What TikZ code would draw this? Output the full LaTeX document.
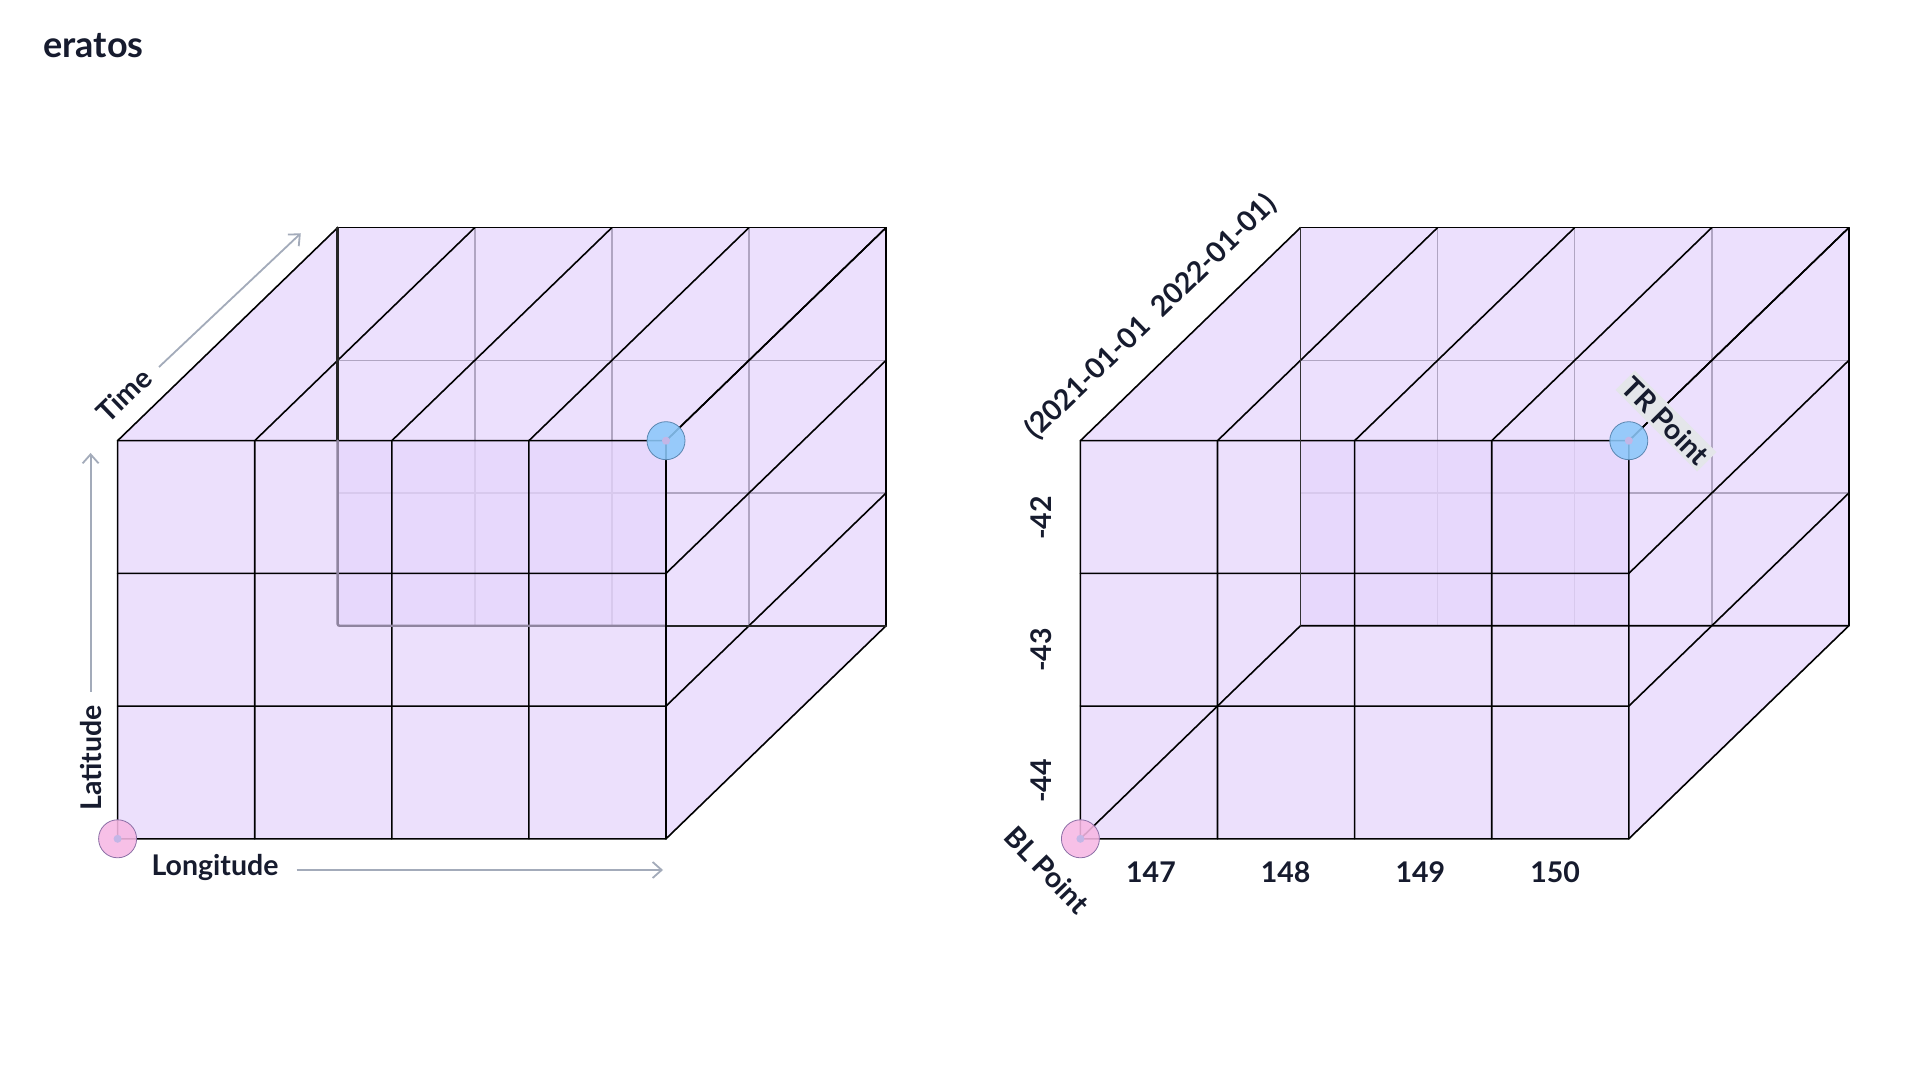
\documentclass[tikz,border=0pt]{standalone}
\usepackage{fontspec}
\setmainfont{Lato}
\usepackage{xcolor}
\usetikzlibrary{arrows.meta, positioning, calc}

\definecolor{cubelilac}{HTML}{ECE0FD}
\definecolor{frontlilac}{HTML}{E6D6FC}
\definecolor{backgrid}{HTML}{B0A5C2}
\definecolor{hiddengray}{HTML}{8F849F}
\definecolor{inkdark}{HTML}{161B2E}
\definecolor{axisgray}{HTML}{A3ABBA}
\definecolor{blpink}{HTML}{F7B8E4}
\definecolor{pinkedge}{HTML}{8C6FA6}
\definecolor{trblue}{HTML}{8CC8FA}
\definecolor{blueedge}{HTML}{5A86B0}
\definecolor{dotlilac}{HTML}{C3B6E6}
\definecolor{tagback}{HTML}{E4E6EA}

% cube sizes (pt = px)
\newcommand{\cellW}{137.1}
\newcommand{\cellH}{132.7}
\newcommand{\cubeW}{548.4}
\newcommand{\cubeH}{398.1}
\newcommand{\depX}{220}
\newcommand{\depY}{213}

% top, right and back faces with the back grid
\newcommand{\cubeback}{%
  \fill[cubelilac] (0,\cubeH) -- (\depX,\cubeH+\depY) -- (\cubeW+\depX,\cubeH+\depY)
    -- (\cubeW+\depX,\depY) -- (\cubeW,0) -- (\cubeW,\cubeH) -- cycle;
  \fill[cubelilac] (\depX,\depY) rectangle (\cubeW+\depX,\cubeH+\depY);
  \foreach \k in {1,2,3}
    \draw[backline] (\depX+\k*\cellW,\depY) -- (\depX+\k*\cellW,\cubeH+\depY);
  \foreach \k in {1,2}
    \draw[backline] (\depX,\depY+\k*\cellH) -- (\cubeW+\depX,\depY+\k*\cellH);
}
% see-through front face, its grid and the depth lines
\newcommand{\cubefront}{%
  \fill[frontlilac, fill opacity=0.75] (0,0) rectangle (\cubeW,\cubeH);
  \foreach \k in {0,...,4}
    \draw[gridline] (\k*\cellW,0) -- (\k*\cellW,\cubeH) -- (\k*\cellW+\depX,\cubeH+\depY);
  \foreach \k in {0,...,3}
    \draw[gridline] (0,\k*\cellH) -- (\cubeW,\k*\cellH) -- (\cubeW+\depX,\k*\cellH+\depY);
  \draw[gridline] (\depX,\cubeH+\depY) -- (\cubeW+\depX,\cubeH+\depY) -- (\cubeW+\depX,\depY);
}

\begin{document}
\begin{tikzpicture}[
    x=1pt, y=1pt,
    gridline/.style={draw=black, line width=1.6pt, line join=round, line cap=round},
    backline/.style={draw=backgrid, line width=1.6pt},
    hiddenedge/.style={line width=2.4pt, line cap=round},
    axislabel/.style={font=\fontsize{28.5}{32}\selectfont\bfseries, text=inkdark, inner sep=2pt},
    axisarrow/.style={draw=axisgray, line width=1.8pt, -{Straight Barb[length=9pt, width=16pt]}},
    blpoint/.style={circle, draw=pinkedge, fill=blpink, fill opacity=0.88, line width=0.8pt,
        minimum size=38pt, inner sep=0pt,
        path picture={\fill[dotlilac, fill opacity=1] (path picture bounding box.center) circle (4pt);}},
    trpoint/.style={blpoint, draw=blueedge, fill=trblue}
]
    \fill[white] (0,0) rectangle (1920,1080);
    \useasboundingbox (0,0) rectangle (1920,1080);

    % Logo
    \node[font=\fontsize{36}{40}\selectfont\bfseries, text=inkdark, anchor=base west, inner sep=0pt] (logo) at (43.3,1022) {eratos};

    % Left cube
    \begin{scope}[shift={(117.6,241.2)}]
        \cubeback
        \cubefront
        % hidden edges: black above and right, grey behind the front face
        \draw[hiddenedge, draw=black!85] (\depX,\cubeH) -- (\depX,\cubeH+\depY);
        \draw[hiddenedge, draw=black!85] (\cubeW,\depY) -- (\cubeW+\depX,\depY);
        \draw[hiddenedge, draw=hiddengray, rounded corners=2pt] (\depX,\cubeH) -- (\depX,\depY) -- (\cubeW,\depY);
        \draw[gridline] (\cubeW,0) -- (\cubeW,\cubeH);
        \node[blpoint] (blA) at (0,0) {};
        \node[trpoint] (trA) at (\cubeW,\cubeH) {};
    \end{scope}

    % Left cube axes
    \node[axislabel, rotate=44] (timeL) at (124,685) {Time};
    \node[axislabel, rotate=90] (latL) at (90.6,322) {Latitude};
    \node[axislabel] (lonL) at (215,213) {Longitude};
    \coordinate (timeA) at (159,713);
    \coordinate (timeB) at (300.8,846.7);
    \coordinate (latA) at (90.6,388);
    \coordinate (latB) at (90.6,627);
    \coordinate (lonA) at (296.7,210);
    \coordinate (lonB) at (663,210);
    \draw[axisarrow] (timeA) -- (timeB);
    \draw[axisarrow] (latA) -- (latB);
    \draw[axisarrow] (lonA) -- (lonB);

    % Right cube
    \begin{scope}[shift={(1080.4,241.2)}]
        \cubeback
        \cubefront
        % hidden edges on top
        \draw[gridline] (0,0) -- (\depX,\depY) -- (\cubeW+\depX,\depY);
        \draw[gridline, draw=black!80] (\depX,\depY) -- (\depX,\cubeH+\depY);
        \node[blpoint] (blB) at (0,0) {};
        \node[trpoint] (trB) at (\cubeW,\cubeH) {};
    \end{scope}

    % Right cube values
    \node[axislabel, rotate=44] (dates) at (1151,763) {(2021-01-01\hspace{0.5em}2022-01-01)};
    \foreach \v/\yy in {-42/562, -43/430, -44/299}
        \node[axislabel, rotate=90] (lat\v) at (1041,\yy) {\v};
    \foreach \v [count=\i] in {147,148,149,150}
        \node[axislabel] (lon\v) at ({1151+(\i-1)*134.7},208) {\v};
    \node[axislabel, rotate=-46] (bltag) at (1047,210) {BL Point};
    \node[axislabel, rotate=-45, fill=tagback, inner sep=3pt] (trtag) at (1666,659) {TR Point};
\end{tikzpicture}
\end{document}
